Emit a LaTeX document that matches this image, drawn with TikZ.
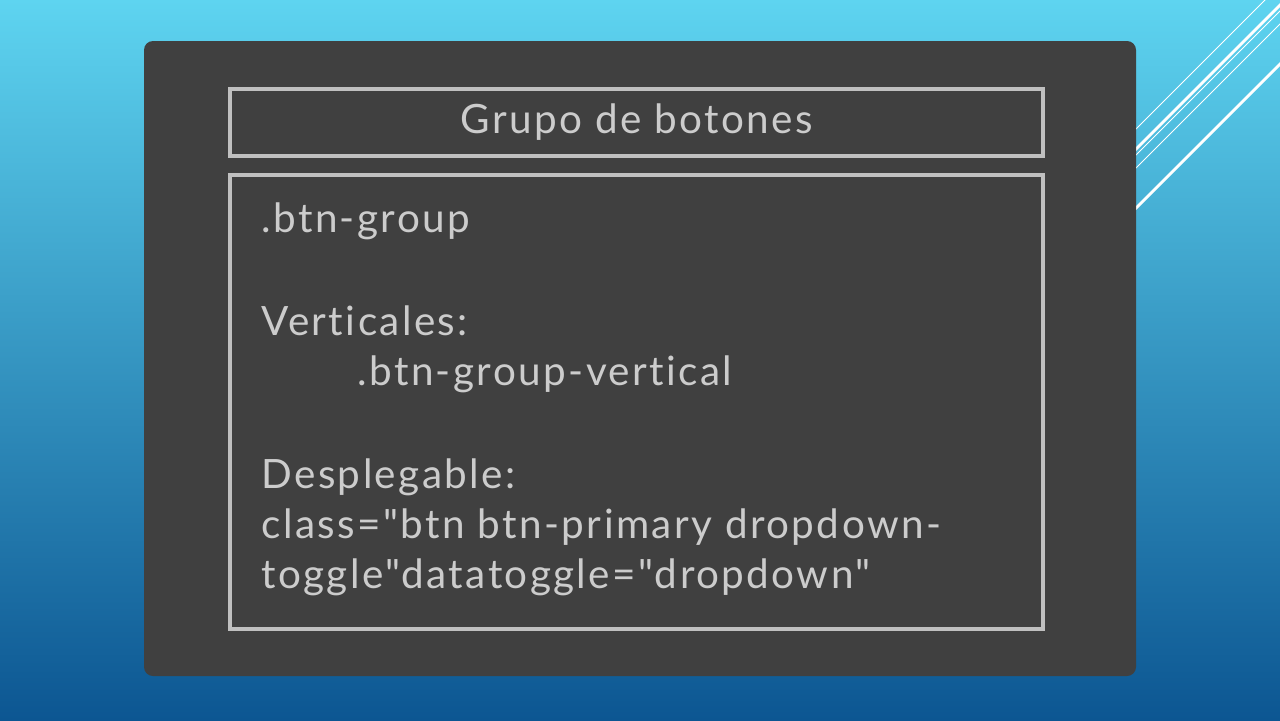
\documentclass[tikz,border=0pt]{standalone}
\usepackage{fontspec}
\newfontfamily\chalkfont{Lato}[LetterSpace=6, Ligatures=NoCommon]
\usetikzlibrary{positioning}

\definecolor{skytop}{RGB}{94,212,240}
\definecolor{skymid}{RGB}{56,152,202}
\definecolor{skybot}{RGB}{12,86,146}
\definecolor{board}{RGB}{64,64,64}
\definecolor{frameline}{RGB}{192,192,192}
\definecolor{chalk}{RGB}{204,204,204}

\begin{document}
\begin{tikzpicture}[
            x = 0.02cm, y = -0.02cm, % one unit = one pixel, y down
            box/.style = {draw = frameline, line width = 2.2pt, inner sep = 0pt},
            chalktext/.style = {text = chalk, font = \chalkfont\fontsize{23}{28}\selectfont,
                                inner sep = 0pt, anchor = base west},
            stripe/.style = {draw = white, line width = #1}
        ]

        % slide background
        \useasboundingbox (0,0) rectangle (1280,720);
        \shade[top color = skytop, middle color = skymid, bottom color = skybot]
            (0,0) rectangle (1280,720);

        % stripes in the upper right corner
        \begin{scope}
            \clip (0,0) rectangle (1280,720);
            \draw[stripe = 0.5pt] (1315,-50) -- (1015,250);
            \draw[stripe = 1.6pt] (1335,-50) -- (1035,250);
            \draw[stripe = 0.5pt] (1341,-50) -- (1041,250);
            \draw[stripe = 0.5pt] (1354,-50) -- (1054,250);
            \draw[stripe = 1.6pt] (1394,-50) -- (1094,250);
        \end{scope}

        % board
        \fill[board, rounded corners = 0.18cm] (144,41) rectangle (1136,676);

        % frames
        \node[box, minimum width = 0.02cm*813, minimum height = 0.02cm*67]
            (titlebox) [at={(636.5,122.5)}] {};
        \node[box, minimum width = 0.02cm*813, minimum height = 0.02cm*454]
            (bodybox) [at={(636.5,402)}] {};

        % texts
        \node[chalktext, anchor = center] (title) [at={(titlebox.center)}] {Grupo de botones};
        \node[chalktext] (group) [at={(261,232)}] {.btn-group};
        \node[chalktext] (vert) [at={(261,335)}] {Verticales:};
        \node[chalktext] (vertcls) [at={(357,385)}] {.btn-group-vertical};
        \node[chalktext] (drop) [at={(261,488)}] {Desplegable:};
        \node[chalktext] (dropcls) [at={(261,538)}] {class="btn btn-primary dropdown-};
        \node[chalktext] (droptog) [at={(261,588)}] {toggle"datatoggle="dropdown"};
      \end{tikzpicture}
\end{document}
